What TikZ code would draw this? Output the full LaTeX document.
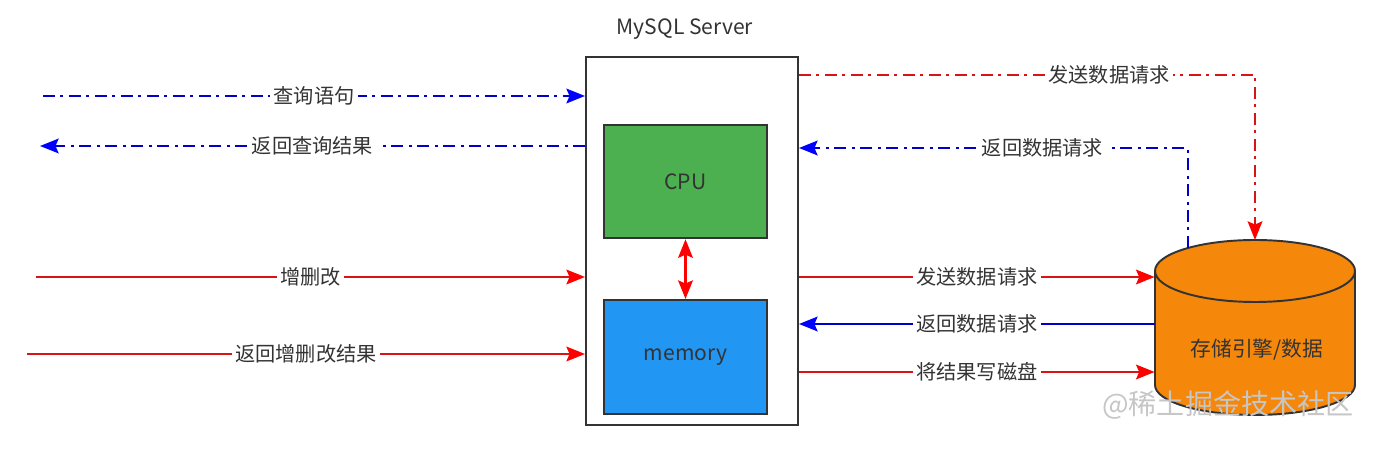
\documentclass[tikz,border=0pt]{standalone}
\usepackage{fontspec}
\setmainfont{Noto Sans CJK SC}
\usetikzlibrary{arrows.meta,positioning}
\definecolor{cpugreen}{HTML}{4CAF50}
\definecolor{memblue}{HTML}{2196F3}
\definecolor{diskorange}{HTML}{F5870A}
\definecolor{linered}{HTML}{D81414}
\definecolor{tipred}{HTML}{FF0000}
\definecolor{lineblue}{HTML}{0000C8}
\definecolor{tipblue}{HTML}{0000FF}
\definecolor{txtgray}{HTML}{333333}

\begin{document}
\begin{tikzpicture}[x=0.02cm,y=0.02cm,
  box/.style={draw=txtgray,line width=1.1pt,minimum width=3.26cm,minimum height=2.27cm,
    text=txtgray,font=\fontsize{12}{14}\selectfont},
  lbl/.style={fill=white,inner xsep=2pt,inner ysep=1pt,text=txtgray,font=\fontsize{11.5}{13}\selectfont},
  dashdot/.style={dash pattern=on 2.4mm off 1.1mm on 0.6mm off 1.1mm},
  redarr/.style={draw=linered,line width=1.6pt,
    -{Stealth[length=3.7mm,width=2.9mm,inset=0.6mm,color=tipred]}},
  bluearr/.style={draw=lineblue,line width=1.6pt,
    -{Stealth[length=3.7mm,width=2.9mm,inset=0.6mm,color=tipblue]}}]
  \useasboundingbox (0,0) rectangle (1384,-472);

  % server with cpu and memory
  \node[draw=txtgray,line width=1.1pt,fill=white,minimum width=4.24cm,minimum height=7.36cm] (server) at (692,-241) {};
  \node[text=txtgray,font=\fontsize{12}{14}\selectfont] (title) at (685,-29) {MySQL Server};
  \node[box,fill=cpugreen] (cpu) at (685.5,-181.5) {CPU};
  \node[box,fill=memblue,minimum height=2.28cm] (mem) at (685.5,-357) {memory};
  \draw[draw=tipred,line width=1.6pt,
    {Stealth[length=3.7mm,width=2.9mm,inset=0.6mm]}-{Stealth[length=3.7mm,width=2.9mm,inset=0.6mm]}] (cpu) -- (mem);

  % storage cylinder
  \fill[diskorange] (1155,-271) -- (1155,-385) arc[start angle=180,end angle=360,x radius=100,y radius=30]
    -- (1355,-271) arc[start angle=0,end angle=180,x radius=100,y radius=31] -- cycle;
  \draw[txtgray,line width=1.1pt] (1155,-271) -- (1155,-385) arc[start angle=180,end angle=360,x radius=100,y radius=30]
    -- (1355,-271);
  \draw[txtgray,line width=1.1pt] (1255,-271) ellipse[x radius=100,y radius=31];
  \node[inner sep=0,minimum width=4cm,minimum height=3.52cm] (disk) at (1255,-327) {};
  \node[text=txtgray,font=\fontsize{11.8}{14}\selectfont] (disklbl) at (1257,-350) {存储引擎/数据};
  \coordinate (disktop) at (1255,-240);
  \coordinate (diskret) at (1188,-248);

  % client side
  \coordinate (qin) at (43,-96);
  \coordinate (qout) at (40,-146);
  \coordinate (upin) at (36,-277);
  \coordinate (upout) at (27,-354);
  \draw[bluearr,dashdot] (qin) -- node[lbl]{查询语句} (qin -| server.west);
  \draw[bluearr,dashdot] (qout -| server.west) -- node[lbl]{返回查询结果} (qout);
  \draw[redarr] (upin) -- node[lbl]{增删改} (upin -| server.west);
  \draw[redarr] (upout) -- node[lbl]{返回增删改结果} (upout -| server.west);

  % storage side
  \coordinate (reqcorner) at (1255,-75);
  \coordinate (retcorner) at (1188,-148);
  \coordinate (r1) at (0,-277);
  \coordinate (r2) at (0,-324);
  \coordinate (r3) at (0,-372);
  \draw[redarr,dashdot] (server.east |- reqcorner) -- node[lbl,pos=0.68]{发送数据请求} (reqcorner) -- (disktop);
  \draw[bluearr,dashdot] (diskret) -- (retcorner) -- node[lbl,pos=0.374]{返回数据请求} (server.east |- retcorner);
  \draw[redarr] (server.east |- r1) -- node[lbl]{发送数据请求} (disk.west |- r1);
  \draw[bluearr] (disk.west |- r2) -- node[lbl]{返回数据请求} (server.east |- r2);
  \draw[redarr] (server.east |- r3) -- node[lbl]{将结果写磁盘} (disk.west |- r3);

  \node[text=gray!45,font=\fontsize{16}{18}\selectfont] (mark) at (1228,-405) {@稀土掘金技术社区};
\end{tikzpicture}
\end{document}
